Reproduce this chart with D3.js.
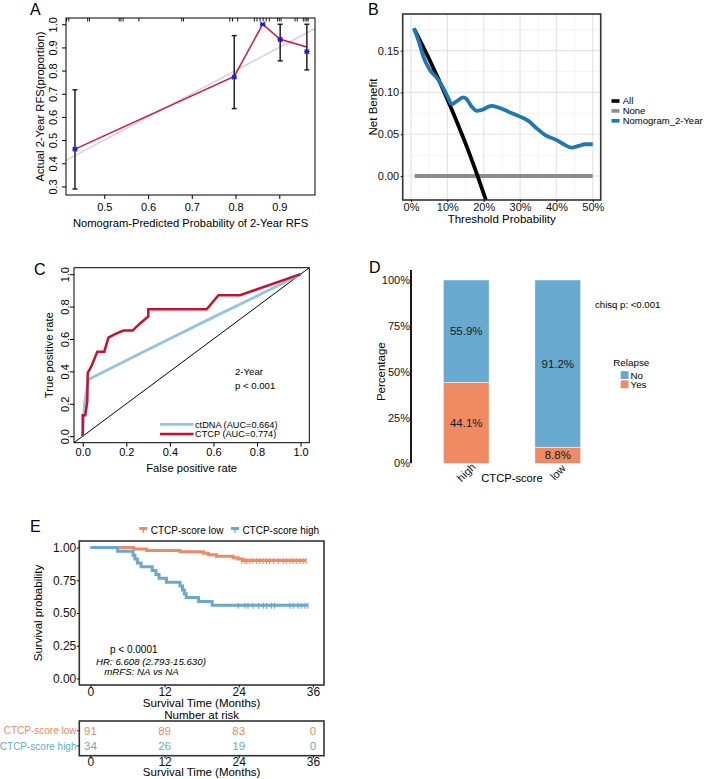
<!DOCTYPE html>
<html><head><meta charset="utf-8">
<script src="https://cdn.jsdelivr.net/npm/d3@7"></script>
<style>body{margin:0;background:#fff;} svg{display:block;}</style>
</head><body><svg id="c" width="709" height="779"></svg>
<script>
// ---------------- DATA ----------------
// Panel A: calibration
const calPred = [0.433, 0.797, 0.862, 0.902, 0.963];
const calObs  = [0.461, 0.772, 1.000, 0.934, 0.882];
const calLo   = [0.289, 0.636, 1.000, 0.842, 0.803];
const calHi   = [0.717, 0.951, 1.000, 1.000, 1.000];
const calLine = [0.461, 0.775, 1.000, 0.935, 0.902];
const calRug  = [0.414,0.419,0.462,0.466,0.534,0.538,0.543,0.579,0.677,0.681,0.787,0.793,0.805,0.843,0.849,0.856,0.863,0.870,0.877,0.896,0.900,0.904,0.936,0.941,0.955,0.959,0.963,0.966];
const calTicksX = [0.5,0.6,0.7,0.8,0.9];
const calTicksY = [0.3,0.4,0.5,0.6,0.7,0.8,0.9,1.0];

// Panel B: decision curve
const dcaAllX  = [0.01, 0.05, 0.10, 0.15, 0.20, 0.23];
const dcaAllY  = [0.175, 0.140, 0.092, 0.039, -0.021, -0.060];
const dcaNoneX = [0.01, 0.50];
const dcaNoneY = [0, 0];
const dcaNomoX = [0.008,0.020,0.034,0.052,0.072,0.089,0.103,0.112,0.124,0.144,0.153,0.167,0.181,0.194,0.222,0.240,0.268,0.295,0.323,0.346,0.369,0.401,0.424,0.442,0.461,0.479,0.50];
const dcaNomoY = [0.177,0.163,0.143,0.127,0.117,0.105,0.093,0.086,0.089,0.094,0.092,0.083,0.078,0.079,0.084,0.082,0.077,0.072,0.066,0.057,0.049,0.043,0.037,0.034,0.036,0.038,0.038];
const dcaTicksX = [0,0.1,0.2,0.3,0.4,0.5];
const dcaTicksY = [0,0.05,0.10,0.15];
const dcaSeries = ["All","None","Nomogram_2-Year"];

// Panel C: ROC
const rocCtcpX = [0,0,0.012,0.021,0.023,0.041,0.067,0.099,0.118,0.148,0.187,0.229,0.263,0.301,0.301,0.569,0.623,0.722,1.0];
const rocCtcpY = [0,0.130,0.130,0.217,0.391,0.435,0.522,0.522,0.609,0.630,0.652,0.652,0.696,0.739,0.783,0.783,0.870,0.870,1.0];
const rocDnaX  = [0,0.008,0.026,0.30,0.60,0.80,1.0];
const rocDnaY  = [0,0.20,0.35,0.535,0.735,0.865,1.0];
const rocTicks = [0,0.2,0.4,0.6,0.8,1.0];

// Panel D: stacked proportions
const relGroups = ["high","low"];
const relNo  = [0.559, 0.912];
const relYes = [0.441, 0.088];
const relTicks = [0,0.25,0.5,0.75,1];

// Panel E: Kaplan-Meier
const kmLowT  = [0,7.0,9.1,14.5,18.3,19.1,20.4,23.1,23.9,24.6];
const kmLowS  = [1,0.989,0.978,0.967,0.956,0.945,0.934,0.923,0.912,0.901];
const kmLowEnd = 34.9;
const kmHighT = [0,4.4,6.9,7.2,7.6,8.2,10.0,10.6,11.1,12.3,14.5,14.9,15.2,15.5,17.5,19.7];
const kmHighS = [1,0.971,0.941,0.912,0.882,0.853,0.824,0.794,0.765,0.735,0.706,0.676,0.647,0.618,0.588,0.559];
const kmHighEnd = 35.2;
const censorLow  = [24.5,25.0,25.3,25.8,26.3,26.9,27.4,27.9,28.5,29.0,29.6,30.4,31.2,31.7,32.3,32.8,33.3,33.9,34.4,34.9];
const censorHigh = [23.9,25.0,25.5,26.3,27.2,28.0,28.5,29.3,29.8,32.3,32.8,33.6,34.1,34.7,35.2];
const riskTimes = [0,12,24,36];
const riskLow  = [91,89,83,0];
const riskHigh = [34,26,19,0];
const kmTicksY = [0,0.25,0.5,0.75,1];

// ---------------- DRAW ----------------
const F = '"Liberation Sans", Arial, Helvetica, sans-serif';
const svg = d3.select("#c").attr("font-family", F);
svg.append("rect").attr("width",709).attr("height",779).attr("fill","#fff");
const defs = svg.append("defs");
function clip(id,x,y,w,h){ defs.append("clipPath").attr("id",id).append("rect").attr("x",x).attr("y",y).attr("width",w).attr("height",h); }
function txt(g,s,x,y,size,opts={}){ const t=g.append("text").attr("x",x).attr("y",y).attr("font-size",size).attr("fill",opts.fill||"#000").text(s); if(opts.anchor) t.attr("text-anchor",opts.anchor); if(opts.italic) t.attr("font-style","italic"); return t; }
function vtxt(g,s,cx,cy,size){ return g.append("text").attr("transform",`translate(${cx},${cy}) rotate(-90)`).attr("text-anchor","middle").attr("font-size",size).attr("fill","#000").text(s); }
function styleAxis(a,size,col){ a.attr("font-family",F).attr("font-size",size); a.selectAll("text").attr("fill",col||"#000"); a.selectAll("line").attr("stroke",col||"#000"); }
const BLUE="#67A9CF", ORANGE="#EF8A62";

// ===== Panel A =====
{
const g = svg.append("g");
const L=66,R=315,T=18,B=195;
const x = d3.scaleLinear().domain([0.4125,0.9816]).range([L,R]);
const y = d3.scaleLinear().domain([0.263,1.027]).range([B,T]);
clip("clipA",L,T,R-L,B-T);
g.append("line").attr("clip-path","url(#clipA)").attr("x1",x(0.40)).attr("y1",y(0.40)).attr("x2",x(1)).attr("y2",y(1)).attr("stroke","#d6d6d6").attr("stroke-width",1.6);
const idx = d3.range(calPred.length);
g.append("path").attr("d",d3.line().x(i=>x(calPred[i])).y(i=>y(calLine[i]))(idx)).attr("fill","none").attr("stroke","#DC1437").attr("stroke-width",1.5);
idx.forEach(i=>{
  if(calHi[i]>calLo[i]){
    g.append("line").attr("x1",x(calPred[i])).attr("x2",x(calPred[i])).attr("y1",y(calLo[i])).attr("y2",y(calHi[i])).attr("stroke","#222").attr("stroke-width",1.5);
    [calLo[i],calHi[i]].forEach(v=>g.append("line").attr("x1",x(calPred[i])-2.5).attr("x2",x(calPred[i])+2.5).attr("y1",y(v)).attr("y2",y(v)).attr("stroke","#222").attr("stroke-width",1.5));
  }
  const cx=x(calPred[i]), cy=y(calObs[i]), s=2.2;
  g.append("path").attr("d",`M${cx-s},${cy-s}L${cx+s},${cy+s}M${cx-s},${cy+s}L${cx+s},${cy-s}M${cx-s-0.5},${cy}L${cx+s+0.5},${cy}`).attr("stroke","#1515FF").attr("stroke-width",1.4);
});
calRug.forEach(v=>g.append("line").attr("x1",x(v)).attr("x2",x(v)).attr("y1",T).attr("y2",T+3.5).attr("stroke","#000").attr("stroke-width",0.9));
g.append("rect").attr("x",L).attr("y",T).attr("width",R-L).attr("height",B-T).attr("fill","none").attr("stroke","#000").attr("stroke-width",1);
const ay = g.append("g").attr("transform",`translate(${L},0)`).call(d3.axisLeft(y).tickValues(calTicksY).tickFormat(d3.format(".1f")).tickSize(4));
ay.select(".domain").remove(); styleAxis(ay,11);
ay.selectAll(".tick text").attr("transform","rotate(-90)").attr("x",0).attr("y",-9).attr("dy",0).attr("text-anchor","middle");
const ax = g.append("g").attr("transform",`translate(0,${B})`).call(d3.axisBottom(x).tickValues(calTicksX).tickFormat(d3.format(".1f")).tickSize(4).tickPadding(4));
ax.select(".domain").remove(); styleAxis(ax,11);
vtxt(g,"Actual 2-Year RFS(proportion)",44,(T+B)/2,11.2);
txt(g,"Nomogram-Predicted Probability of 2-Year RFS",(L+R)/2,226.5,11.2,{anchor:"middle"});
txt(g,"A",30,15,16);
}

// ===== Panel B =====
{
const g = svg.append("g");
const L=402.7,R=600.7,T=14,B=200;
const x = d3.scaleLinear().domain([-0.0228,0.5218]).range([L,R]);
const y = d3.scaleLinear().domain([-0.0287,0.1939]).range([B,T]);
clip("clipB",L,T,R-L,B-T);
const gg = g.append("g").attr("clip-path","url(#clipB)");
[0.05,0.15,0.25,0.35,0.45].forEach(v=>gg.append("line").attr("x1",x(v)).attr("x2",x(v)).attr("y1",T).attr("y2",B).attr("stroke","#f0f0f0").attr("stroke-width",0.7));
[-0.025,0.025,0.075,0.125,0.175].forEach(v=>gg.append("line").attr("y1",y(v)).attr("y2",y(v)).attr("x1",L).attr("x2",R).attr("stroke","#f0f0f0").attr("stroke-width",0.7));
dcaTicksX.forEach(v=>gg.append("line").attr("x1",x(v)).attr("x2",x(v)).attr("y1",T).attr("y2",B).attr("stroke","#e4e4e4").attr("stroke-width",1.2));
dcaTicksY.forEach(v=>gg.append("line").attr("y1",y(v)).attr("y2",y(v)).attr("x1",L).attr("x2",R).attr("stroke","#e4e4e4").attr("stroke-width",1.2));
const ln = (xs,ys,c)=>d3.line().x(i=>x(xs[i])).y(i=>y(ys[i])).curve(c||d3.curveLinear)(d3.range(xs.length));
gg.append("path").attr("d",ln(dcaNoneX,dcaNoneY)).attr("fill","none").attr("stroke","#8c8c8c").attr("stroke-width",3.8);
gg.append("path").attr("d",ln(dcaAllX,dcaAllY,d3.curveMonotoneX)).attr("fill","none").attr("stroke","#000").attr("stroke-width",3.8);
gg.append("path").attr("d",ln(dcaNomoX,dcaNomoY,d3.curveMonotoneX)).attr("fill","none").attr("stroke","#1F78B4").attr("stroke-width",3.8).attr("stroke-linejoin","round");
g.append("rect").attr("x",L).attr("y",T).attr("width",R-L).attr("height",B-T).attr("fill","none").attr("stroke","#333").attr("stroke-width",1.6);
const ay = g.append("g").attr("transform",`translate(${L},0)`).call(d3.axisLeft(y).tickValues(dcaTicksY).tickFormat(d3.format(".2f")).tickSize(2).tickPadding(1.5));
ay.select(".domain").remove(); styleAxis(ay,11,"#111");
const ax = g.append("g").attr("transform",`translate(0,${B})`).call(d3.axisBottom(x).tickValues(dcaTicksX).tickFormat(d3.format(".0%")).tickSize(2).tickPadding(1.5));
ax.select(".domain").remove(); styleAxis(ax,11,"#111");
vtxt(g,"Net Benefit",377,107,11.5);
txt(g,"Threshold Probability",(L+R)/2,223,11.5,{anchor:"middle"});
const cols=["#000","#8c8c8c","#1F78B4"];
dcaSeries.forEach((s,i)=>{ const yy=101+i*9.9; g.append("line").attr("x1",611.5).attr("x2",619.5).attr("y1",yy).attr("y2",yy).attr("stroke",cols[i]).attr("stroke-width",3.6); txt(g,s,622.7,yy+3.4,9.5); });
txt(g,"B",368,15,16);
}

// ===== Panel C =====
{
const g = svg.append("g");
const L=74,R=309.3,T=267.7,B=442.7;
const x = d3.scaleLinear().domain([-0.04,1.04]).range([L,R]);
const y = d3.scaleLinear().domain([-0.04,1.04]).range([B,T]);
clip("clipC",L,T,R-L,B-T);
const gg = g.append("g").attr("clip-path","url(#clipC)");
gg.append("line").attr("x1",x(-0.04)).attr("y1",y(-0.04)).attr("x2",x(1.04)).attr("y2",y(1.04)).attr("stroke","#000").attr("stroke-width",1);
const ln = (xs,ys)=>d3.line().x(i=>x(xs[i])).y(i=>y(ys[i]))(d3.range(xs.length));
gg.append("path").attr("d",ln(rocDnaX,rocDnaY)).attr("fill","none").attr("stroke","#92C5DE").attr("stroke-width",2.8).attr("stroke-linejoin","round");
gg.append("path").attr("d",ln(rocCtcpX,rocCtcpY)).attr("fill","none").attr("stroke","#C8102E").attr("stroke-width",2.5);
g.append("rect").attr("x",L).attr("y",T).attr("width",R-L).attr("height",B-T).attr("fill","none").attr("stroke","#000").attr("stroke-width",1);
const ay = g.append("g").attr("transform",`translate(${L},0)`).call(d3.axisLeft(y).tickValues(rocTicks).tickFormat(d3.format(".1f")).tickSize(4));
ay.select(".domain").remove(); styleAxis(ay,11);
ay.selectAll(".tick text").attr("transform","rotate(-90)").attr("x",0).attr("y",-5).attr("dy",0).attr("text-anchor","middle");
const ax = g.append("g").attr("transform",`translate(0,${B})`).call(d3.axisBottom(x).tickValues(rocTicks).tickFormat(d3.format(".1f")).tickSize(4).tickPadding(2));
ax.select(".domain").remove(); styleAxis(ax,11);
vtxt(g,"True positive rate",52.5,(T+B)/2,11.2);
txt(g,"False positive rate",(L+R)/2,472,11.2,{anchor:"middle"});
txt(g,"2-Year",235,375,9.6);
txt(g,"p < 0.001",235,388.5,9.6);
g.append("line").attr("x1",160).attr("x2",193.5).attr("y1",424.3).attr("y2",424.3).attr("stroke","#92C5DE").attr("stroke-width",2.8);
g.append("line").attr("x1",160).attr("x2",193.5).attr("y1",434).attr("y2",434).attr("stroke","#C8102E").attr("stroke-width",2.5);
txt(g,"ctDNA (AUC=0.664)",195,427.6,9.2);
txt(g,"CTCP (AUC=0.774)",195,437.3,9.2);
txt(g,"C",34,274.5,16);
}

// ===== Panel D =====
{
const g = svg.append("g");
const x = d3.scaleBand().domain(relGroups).range([397.5,626.5]).paddingInner(0.5).paddingOuter(0.5);
const y = d3.scaleLinear().domain([0,1]).range([463.3,280]);
relGroups.forEach((k,i)=>{
  g.append("rect").attr("x",x(k)).attr("width",x.bandwidth()).attr("y",y(relYes[i])).attr("height",y(0)-y(relYes[i])).attr("fill",ORANGE).attr("stroke","#fff").attr("stroke-width",0.5);
  g.append("rect").attr("x",x(k)).attr("width",x.bandwidth()).attr("y",y(1)).attr("height",y(relYes[i])-y(1)).attr("fill",BLUE).attr("stroke","#fff").attr("stroke-width",0.5);
  const fmt = d3.format(".1%");
  txt(g,fmt(relNo[i]),x(k)+x.bandwidth()/2,y(relYes[i]+relNo[i]/2)+4,11.5,{anchor:"middle",fill:"#1a1a1a"});
  txt(g,fmt(relYes[i]),x(k)+x.bandwidth()/2,y(relYes[i]/2)+4,11.5,{anchor:"middle",fill:"#1a1a1a"});
});
const ay = g.append("g").attr("transform","translate(411,0)").call(d3.axisLeft(y).tickValues(relTicks).tickFormat(d3.format(".0%")).tickSize(0).tickPadding(1));
ay.select(".domain").remove(); styleAxis(ay,11,"#111");
g.append("line").attr("x1",411).attr("x2",411).attr("y1",270).attr("y2",y(0)).attr("stroke","#000").attr("stroke-width",1.8);
const ax = g.append("g").attr("transform",`translate(0,${y(0)})`).call(d3.axisBottom(x).tickSize(0).tickPadding(0));
ax.select(".domain").remove(); styleAxis(ax,11,"#111");
ax.selectAll(".tick text").attr("transform","translate(0,9) rotate(-45)").attr("y",0).attr("dy","0.35em").attr("text-anchor","middle");
txt(g,"CTCP-score",512,482,11.2,{anchor:"middle"});
vtxt(g,"Percentage",384.7,371.7,11.5);
txt(g,"chisq p: <0.001",595,307.8,9.6);
txt(g,"Relapse",613.3,366,9.8);
g.append("rect").attr("x",620.7).attr("y",371.2).attr("width",7.8).attr("height",7.8).attr("fill",BLUE);
g.append("rect").attr("x",620.7).attr("y",380.4).attr("width",7.8).attr("height",7.8).attr("fill",ORANGE);
txt(g,"No",630.5,379,9.8);
txt(g,"Yes",630.5,388.2,9.8);
txt(g,"D",369,272.5,16);
}

// ===== Panel E =====
{
const g = svg.append("g");
const L=79.3,R=324,T=541,B=685;
const x = d3.scaleLinear().domain([-1.8,37.8]).range([L,R]);
const y = d3.scaleLinear().domain([-0.05,1.05]).range([B,T]);
const step = (ts,ss,end)=>{ const pts=ts.map((t,i)=>[t,ss[i]]); pts.push([end,ss[ss.length-1]]); return d3.line().x(d=>x(d[0])).y(d=>y(d[1])).curve(d3.curveStepAfter)(pts); };
g.append("path").attr("d",step(kmLowT,kmLowS,kmLowEnd)).attr("fill","none").attr("stroke",ORANGE).attr("stroke-width",3);
censorLow.forEach(t=>g.append("line").attr("x1",x(t)).attr("x2",x(t)).attr("y1",y(kmLowS[kmLowS.length-1])-2.5).attr("y2",y(kmLowS[kmLowS.length-1])+3.5).attr("stroke",ORANGE).attr("stroke-width",1.1));
g.append("path").attr("d",step(kmHighT,kmHighS,kmHighEnd)).attr("fill","none").attr("stroke",BLUE).attr("stroke-width",3);
censorHigh.forEach(t=>g.append("line").attr("x1",x(t)).attr("x2",x(t)).attr("y1",y(kmHighS[kmHighS.length-1])-2.5).attr("y2",y(kmHighS[kmHighS.length-1])+3.5).attr("stroke",BLUE).attr("stroke-width",1.1));
g.append("rect").attr("x",L).attr("y",T).attr("width",R-L).attr("height",B-T).attr("fill","none").attr("stroke","#333").attr("stroke-width",1.6);
const ay = g.append("g").attr("transform",`translate(${L},0)`).call(d3.axisLeft(y).tickValues(kmTicksY).tickFormat(d3.format(".2f")).tickSize(2.5).tickPadding(0.5));
ay.select(".domain").remove(); styleAxis(ay,12,"#111");
const ax = g.append("g").attr("transform",`translate(0,${B})`).call(d3.axisBottom(x).tickValues(riskTimes).tickSize(2.5).tickPadding(0));
ax.select(".domain").remove(); styleAxis(ax,12,"#111");
vtxt(g,"Survival probability",41.5,613,11.5);
txt(g,"Survival Time (Months)",(L+R)/2,707,11.5,{anchor:"middle"});
txt(g,"p < 0.0001",110,653,10);
txt(g,"HR: 6.608 (2.793-15.630)",96,664.8,9.7,{italic:true});
txt(g,"mRFS: NA vs NA",104.3,674.8,9.7,{italic:true});
// legend
[[ORANGE,"CTCP-score low",143.3],[BLUE,"CTCP-score high",235]].forEach(([c,s,kx])=>{
  g.append("line").attr("x1",kx-4).attr("x2",kx+4).attr("y1",528.5).attr("y2",528.5).attr("stroke",c).attr("stroke-width",3);
  g.append("line").attr("x1",kx).attr("x2",kx).attr("y1",528).attr("y2",533).attr("stroke",c).attr("stroke-width",1.3);
  txt(g,s,kx+7.4,533.6,10);
});
txt(g,"E",30,531.7,16);
// risk table
txt(g,"Number at risk",(L+R)/2,719,11.5,{anchor:"middle"});
const rT=721,rB=755.7;
g.append("rect").attr("x",L).attr("y",rT).attr("width",R-L).attr("height",rB-rT).attr("fill","none").attr("stroke","#333").attr("stroke-width",1.6);
const rows=[[riskLow,ORANGE,"CTCP-score low",730.7],[riskHigh,BLUE,"CTCP-score high",746]];
rows.forEach(([vals,c,name,yy])=>{
  riskTimes.forEach((t,i)=>txt(g,vals[i],x(t),yy+4.1,11.5,{anchor:"middle",fill:c}));
  txt(g,name,76.5,yy+3.6,10,{anchor:"end",fill:c});
  g.append("line").attr("x1",L-2.5).attr("x2",L).attr("y1",yy).attr("y2",yy).attr("stroke","#333").attr("stroke-width",1);
});
const ax2 = g.append("g").attr("transform",`translate(0,${rB})`).call(d3.axisBottom(x).tickValues(riskTimes).tickSize(2.5).tickPadding(-0.5));
ax2.select(".domain").remove(); styleAxis(ax2,12,"#111");
txt(g,"Survival Time (Months)",(L+R)/2,776.3,11.5,{anchor:"middle"});
}
</script></body></html>
